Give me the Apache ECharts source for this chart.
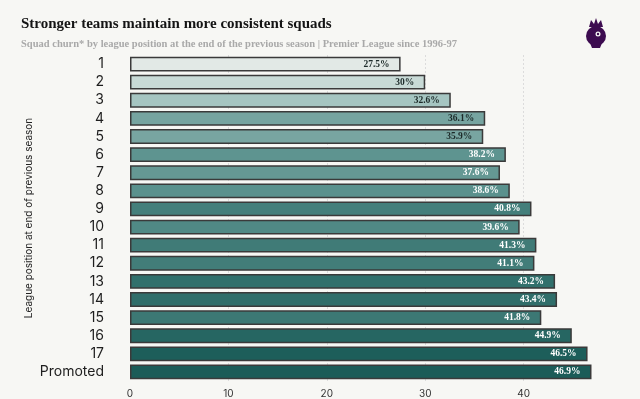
<!DOCTYPE html>
<html>
<head>
<meta charset="utf-8">
<script src="https://cdn.jsdelivr.net/npm/echarts@6/dist/echarts.min.js"></script>
<style>
  html, body { margin: 0; padding: 0; background: #f7f7f4; }
  #main { width: 640px; height: 399px; }
</style>
</head>
<body>
<div id="main"></div>
<script>
var positions = ['1', '2', '3', '4', '5', '6', '7', '8', '9', '10', '11', '12', '13', '14', '15', '16', '17', 'Promoted'];
var churn = [27.5, 30, 32.6, 36.1, 35.9, 38.2, 37.6, 38.6, 40.8, 39.6, 41.3, 41.1, 43.2, 43.4, 41.8, 44.9, 46.5, 46.9];
var xTicks = [0, 10, 20, 30, 40];

(function () {
    var chart = echarts.init(document.getElementById('main'));
    var slab = '"Liberation Serif", serif';

    var barData = churn.map(function (v) {
        return {
            value: v,
            label: { color: v > 37 ? '#ffffff' : '#1d2b2a' }
        };
    });

    var option = {
        backgroundColor: '#f7f7f4',
        animation: false,
        title: {
            text: 'Stronger teams maintain more consistent squads',
            subtext: 'Squad churn* by league position at the end of the previous season | Premier League since 1996-97',
            left: 16,
            top: 12,
            itemGap: 7,
            textStyle: { fontFamily: slab, fontWeight: 'bold', fontSize: 15, color: '#141414' },
            subtextStyle: { fontFamily: slab, fontWeight: 'bold', fontSize: 10.5, color: '#a9a9a9' }
        },
        grid: { left: 130, right: 18, top: 55, bottom: 13, containLabel: false },
        visualMap: {
            show: false,
            type: 'continuous',
            dimension: 0,
            min: 27.5,
            max: 46.9,
            inRange: { color: ['#e2e9e6', '#c5d8d4', '#9fc1bd', '#79a6a2', '#5a918d', '#3f7b77', '#2a6a66', '#1b5c58'] }
        },
        xAxis: {
            type: 'value',
            min: 0,
            max: 50,
            interval: 10,
            axisLine: { show: false },
            axisTick: { show: false },
            axisLabel: {
                color: '#333',
                fontSize: 10,
                fontFamily: 'Inter, "Noto Sans", sans-serif',
                margin: 8,
                formatter: function (v) { return xTicks.indexOf(v) >= 0 ? String(v) : ''; }
            },
            splitLine: {
                show: true,
                showMinLine: false,
                showMaxLine: false,
                lineStyle: { color: '#dcdcdc', type: [2, 2], width: 1 }
            }
        },
        yAxis: {
            type: 'category',
            data: positions,
            inverse: true,
            name: 'League position at end of previous season',
            nameLocation: 'middle',
            nameMoveOverlap: false,
            nameGap: 96,
            nameTextStyle: { fontSize: 10, color: '#222', fontFamily: 'Inter, "Noto Sans", sans-serif' },
            axisLine: { show: false },
            axisTick: { show: false },
            axisLabel: { interval: 0, color: '#1e1e1e', fontSize: 14, margin: 26, fontFamily: 'Inter, "Noto Sans", sans-serif' }
        },
        series: [
            {
                type: 'bar',
                data: barData,
                barCategoryGap: '18%',
                itemStyle: { borderColor: '#3a3a3a', borderWidth: 1.5 },
                label: {
                    show: true,
                    position: 'insideRight',
                    distance: 11,
                    fontFamily: slab,
                    fontWeight: 'bold',
                    fontSize: 9.5,
                    formatter: function (p) { return p.value + '%'; }
                }
            }
        ],
        graphic: [
            {
                type: 'group',
                left: 586,
                top: 18,
                children: [
                    { type: 'circle', shape: { cx: 12, cy: 19, r: 10 }, style: { fill: '#3d0c50' } },
                    { type: 'polygon', shape: { points: [[5, 10], [7, 3], [10, 7], [12, 1], [14, 7], [17, 3], [19, 10]] }, style: { fill: '#3d0c50' } },
                    { type: 'polygon', shape: { points: [[4, 21], [20, 21], [16, 31], [8, 31]] }, style: { fill: '#3d0c50' } },
                    { type: 'circle', shape: { cx: 14, cy: 17, r: 2.5 }, style: { fill: '#f7f7f4' } },
                    { type: 'circle', shape: { cx: 14, cy: 17, r: 1.2 }, style: { fill: '#3d0c50' } }
                ]
            }
        ]
    };
    chart.setOption(option);
})();
</script>
</body>
</html>
